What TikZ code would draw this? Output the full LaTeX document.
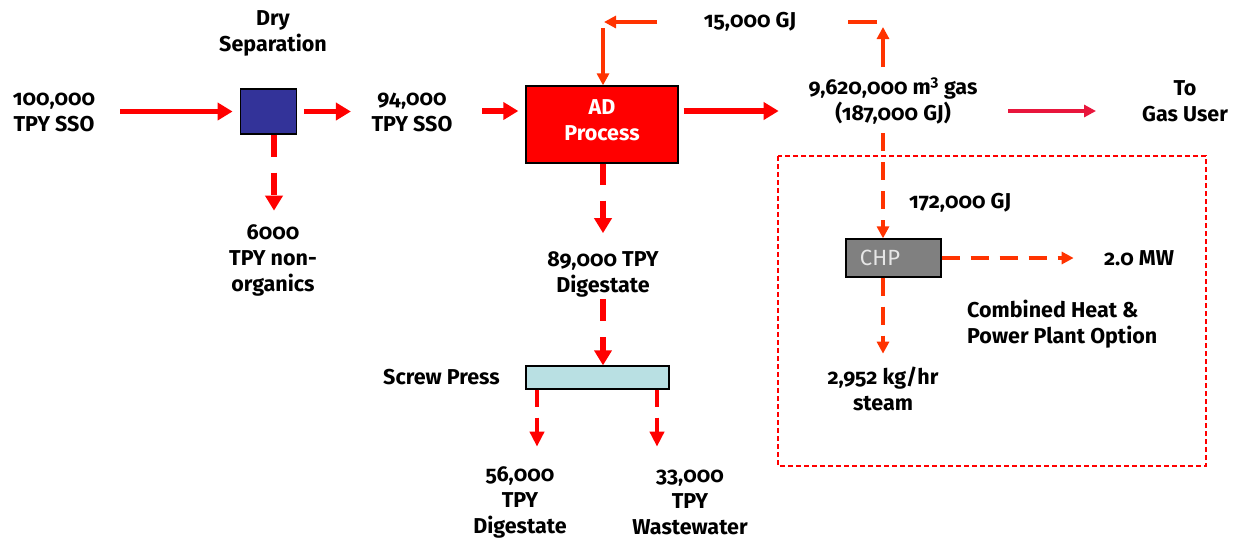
\documentclass[tikz,border=0pt]{standalone}
\usepackage{fontspec}
\setmainfont{Fira Sans}[Numbers=OldStyle]
\usetikzlibrary{arrows.meta}
\definecolor{pred}{RGB}{255,0,0}
\definecolor{porange}{RGB}{255,51,0}
\definecolor{pcrimson}{RGB}{232,22,60}
\definecolor{pblue}{RGB}{51,51,153}
\definecolor{ppress}{RGB}{185,224,227}
\definecolor{pgray}{RGB}{128,128,128}
\definecolor{pchptext}{RGB}{230,230,230}
\tikzset{
  lbl/.style={font=\bfseries\fontsize{21.5}{26}\selectfont, align=center, inner sep=0pt},
  boxx/.style={draw=black, line width=1.3pt, inner sep=0pt},
  bigarr/.style={draw=pred, line width=5.5pt, -{Triangle[length=15pt,width=17pt]}},
  midarr/.style={draw=pred, line width=4.5pt, -{Triangle[length=15pt,width=14pt]}},
  orarr/.style={draw=porange, line width=4.5pt, -{Triangle[length=12pt,width=12pt]}},
  orline/.style={draw=porange, line width=4.5pt},
  bigdash/.style={dash pattern=on 22pt off 16pt},
  smalldash/.style={dash pattern=on 17pt off 11pt},
  chpdash/.style={dash pattern=on 18pt off 11pt},
  gasarr/.style={draw=pcrimson, line width=3.5pt, -{Triangle[length=12pt,width=12pt]}},
  optbox/.style={draw=pred, line width=1.5pt, dash pattern=on 5pt off 3pt},
}
\begin{document}
\begin{tikzpicture}[x=1pt,y=-1pt]
\useasboundingbox[fill=white] (0,0) rectangle (1236,542);

% boxes
\node[boxx, fill=pblue, minimum width=55.5pt, minimum height=45pt] (drybox) at (268.5,111.5) {};
\node[boxx, fill=pred, minimum width=152pt, minimum height=77pt,
      label={[lbl, text=white, yshift=4pt]center:{AD\\Process}}] (ad) at (602,124.5) {};
\node[boxx, fill=ppress, minimum width=143pt, minimum height=23pt] (press) at (597.5,377.5) {};
\node[boxx, fill=pgray, minimum width=95pt, minimum height=38pt,
      label={[text=pchptext, font=\fontsize{22}{26}\selectfont, inner sep=0pt, xshift=-13.5pt]center:CHP}] (chp) at (893.5,258) {};

% labels
\node[lbl] (drylab) at (273,33.5) {Dry\\Separation};
\node[lbl] (lab100) at (54,112) {100,000\\TPY SSO};
\node[lbl] (lab6000) at (273,260) {6000\\TPY non-\\organics};
\node[lbl] (lab94) at (412,112) {94,000\\TPY SSO};
\node[lbl] (lab15) at (750,22) {15,000 GJ};
\node[lbl] (gas) at (893,101) {9,620,000 m\textsuperscript{3} gas\\(187,000 GJ)};
\node[lbl] (user) at (1185,101) {To\\Gas User};
\node[lbl] (lab89) at (603,274.5) {89,000 TPY\\Digestate};
\node[lbl, anchor=east] (screwlab) at (500,377) {Screw Press};
\node[lbl] (lab56) at (520,502) {56,000\\TPY\\Digestate};
\node[lbl] (lab33) at (690,502) {33,000\\TPY\\Wastewater};
\node[lbl, anchor=west] (lab172) at (909,203) {172,000 GJ};
\node[lbl] (lab2mw) at (1139,258) {2.0 MW};
\node[lbl, anchor=west, align=left] (comb) at (967,324) {Combined Heat \&\\Power Plant Option};
\node[lbl] (steam) at (883,389) {2,952 kg/hr\\steam};

% option box
\draw[optbox] (778,156) rectangle (1206,466);

% left part
\draw[bigarr] ([xshift=-120pt]drybox.west) -- ([xshift=-7.5pt]drybox.west);
\draw[bigarr] ([xshift=7pt]drybox.east) -- ([xshift=54pt]drybox.east);
\draw[bigarr, bigdash] ([xshift=5.5pt]drybox.south) -- ([xshift=5.5pt,yshift=-76pt]drybox.south);
\draw[bigarr] ([xshift=-43pt,yshift=13.5pt]ad.west) -- ([xshift=-7pt,yshift=13.5pt]ad.west);
\draw[bigarr] ([xshift=5pt,yshift=13.5pt]ad.east) -- ([xshift=100pt,yshift=13.5pt]ad.east);

% digestate
\draw[bigarr, dash pattern=on 21pt off 16pt] ([xshift=1pt]ad.south) -- ([xshift=1pt,yshift=-69.5pt]ad.south);
\draw[bigarr, bigdash] ([xshift=5.5pt,yshift=66pt]press.north) -- ([xshift=5.5pt]press.north);
\draw[midarr, smalldash] ([xshift=-60.5pt]press.south) -- ([xshift=-60.5pt,yshift=-57pt]press.south);
\draw[midarr, smalldash] ([xshift=59.5pt]press.south) -- ([xshift=59.5pt,yshift=-57pt]press.south);

% feedback loop
\coordinate (fbstart) at (883,67);
\coordinate (fbtop) at (883,27);
\coordinate (fbr1) at (877,22);
\coordinate (fbr2) at (848,22);
\coordinate (fbl1) at (657,22);
\coordinate (fbl2) at (604,22);
\coordinate (fbdown) at (603,28);
\draw[orarr] (fbstart) -- (fbtop);
\draw[orline] (fbr1) -- (fbr2);
\draw[orarr] (fbl1) -- (fbl2);
\draw[orarr] (fbdown) -- ([xshift=1pt]ad.north);

% gas user
\coordinate (gasout) at (1008,111);
\coordinate (userin) at (1096,111);
\draw[gasarr] (gasout) -- (userin);

% CHP
\coordinate (gasdown) at (883,133);
\draw[orarr, chpdash] (gasdown) -- ([xshift=-10.5pt]chp.north);
\draw[orarr, chpdash] (chp.east) -- ([xshift=132pt]chp.east);
\draw[orarr, chpdash] ([xshift=-10.5pt]chp.south) -- ([xshift=-10.5pt,yshift=-76pt]chp.south);
\end{tikzpicture}
\end{document}
